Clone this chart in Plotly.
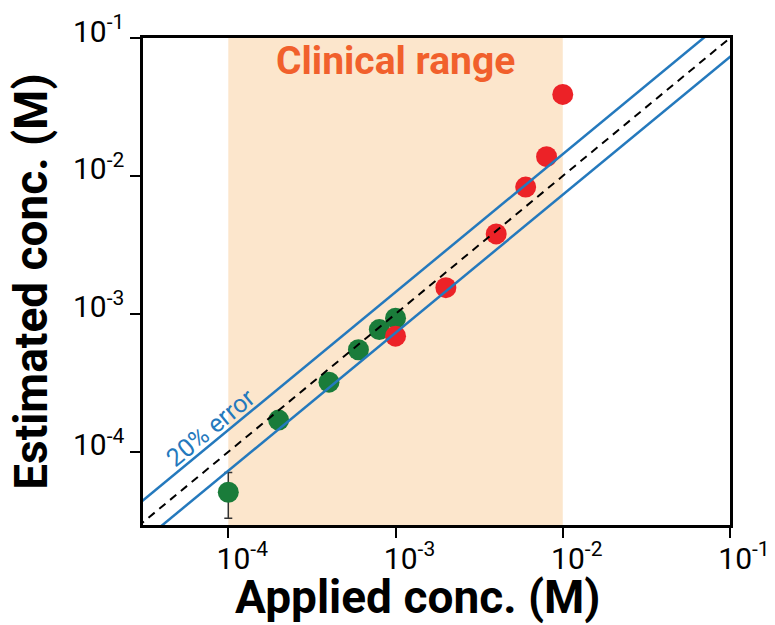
import plotly.graph_objects as go

# ---- data ----
green_x = [1e-4, 2e-4, 4e-4, 6e-4, 8e-4, 1e-3]
green_y = [5.1e-5, 1.7e-4, 3.2e-4, 5.5e-4, 7.7e-4, 9.3e-4]
green_err_plus = [2.0e-5]
green_err_minus = [1.8e-5]

red_x = [1e-3, 2e-3, 4e-3, 6e-3, 8e-3, 1e-2]
red_y = [6.9e-4, 1.55e-3, 3.8e-3, 8.3e-3, 1.38e-2, 3.9e-2]

clinical_range = [1e-4, 1e-2]
line_x = [10 ** -4.8, 10 ** -0.8]
upper_factor = 1.44
lower_factor = 0.73

tick_vals = [1e-4, 1e-3, 1e-2, 1e-1]
tick_text = ["10<sup>-4</sup>", "10<sup>-3</sup>", "10<sup>-2</sup>", "10<sup>-1</sup>"]

# ---- colours ----
GREEN = "#1a7c3a"
RED = "#ec2227"
BLUE = "#2479bd"
PEACH = "#fce6cc"
ORANGE = "#f1602c"
FONT = "Roboto"

fig = go.Figure()

# clinical range shading
fig.add_trace(go.Scatter(
    x=[clinical_range[0], clinical_range[1], clinical_range[1], clinical_range[0], clinical_range[0]],
    y=[1e-6, 1e-6, 1, 1, 1e-6],
    fill="toself", fillcolor=PEACH, mode="none", hoverinfo="skip",
))

# green points: first with error bar
fig.add_trace(go.Scatter(
    x=green_x[:1], y=green_y[:1], mode="markers",
    marker=dict(size=21, color=GREEN),
    error_y=dict(type="data", symmetric=False, array=green_err_plus, arrayminus=green_err_minus,
                 color="#333333", thickness=1.5, width=4),
))
fig.add_trace(go.Scatter(
    x=green_x[1:], y=green_y[1:], mode="markers",
    marker=dict(size=21, color=GREEN),
))
fig.add_trace(go.Scatter(
    x=red_x, y=red_y, mode="markers",
    marker=dict(size=21, color=RED),
))

# error band lines and identity line
fig.add_trace(go.Scatter(
    x=line_x, y=[v * upper_factor for v in line_x], mode="lines",
    line=dict(color=BLUE, width=2.5), hoverinfo="skip",
))
fig.add_trace(go.Scatter(
    x=line_x, y=[v * lower_factor for v in line_x], mode="lines",
    line=dict(color=BLUE, width=2.5), hoverinfo="skip",
))
fig.add_trace(go.Scatter(
    x=line_x, y=line_x, mode="lines",
    line=dict(color="black", width=2, dash="8px,6px"), hoverinfo="skip",
))

axis_common = dict(
    type="log", showgrid=False, zeroline=False, automargin=False,
    showline=True, linecolor="black", linewidth=2.5, mirror=True,
    ticks="outside", ticklen=10, tickwidth=2, tickcolor="black",
    tickvals=tick_vals, ticktext=tick_text, ticklabeloverflow="allow",
    tickfont=dict(family=FONT, size=30, color="black"),
)

fig.update_layout(
    width=767, height=617,
    margin=dict(l=135, r=45, t=30, b=100),
    paper_bgcolor="white", plot_bgcolor="white",
    showlegend=False,
    xaxis=dict(range=[-4.51, -1], ticklabelshift=14, ticklabelstandoff=-5, **axis_common),
    yaxis=dict(range=[-4.53, -1], ticklabelshift=-7, **axis_common),
    annotations=[
        dict(text="Clinical range", xref="x", yref="paper", x=-3, y=0.953,
             xanchor="center", yanchor="middle",
             showarrow=False, font=dict(family=FONT, size=39, color=ORANGE, weight="bold")),
        dict(text="20% error", xref="x", yref="y", x=-4.103, y=-3.826, textangle=-39.6,
             xanchor="center", yanchor="middle",
             showarrow=False, font=dict(family=FONT, size=25, color=BLUE)),
        dict(text="Applied conc. (M)", xref="paper", yref="paper", x=0.467, y=-0.147,
             xanchor="center", yanchor="middle",
             showarrow=False, font=dict(family=FONT, size=46, color="black", weight="bold")),
        dict(text="Estimated conc. (M)", xref="paper", yref="paper", x=-0.191, y=0.499,
             xanchor="center", yanchor="middle",
             textangle=-90, showarrow=False,
             font=dict(family=FONT, size=46, color="black", weight="bold")),
    ],
)

fig.write_html("out.html")
